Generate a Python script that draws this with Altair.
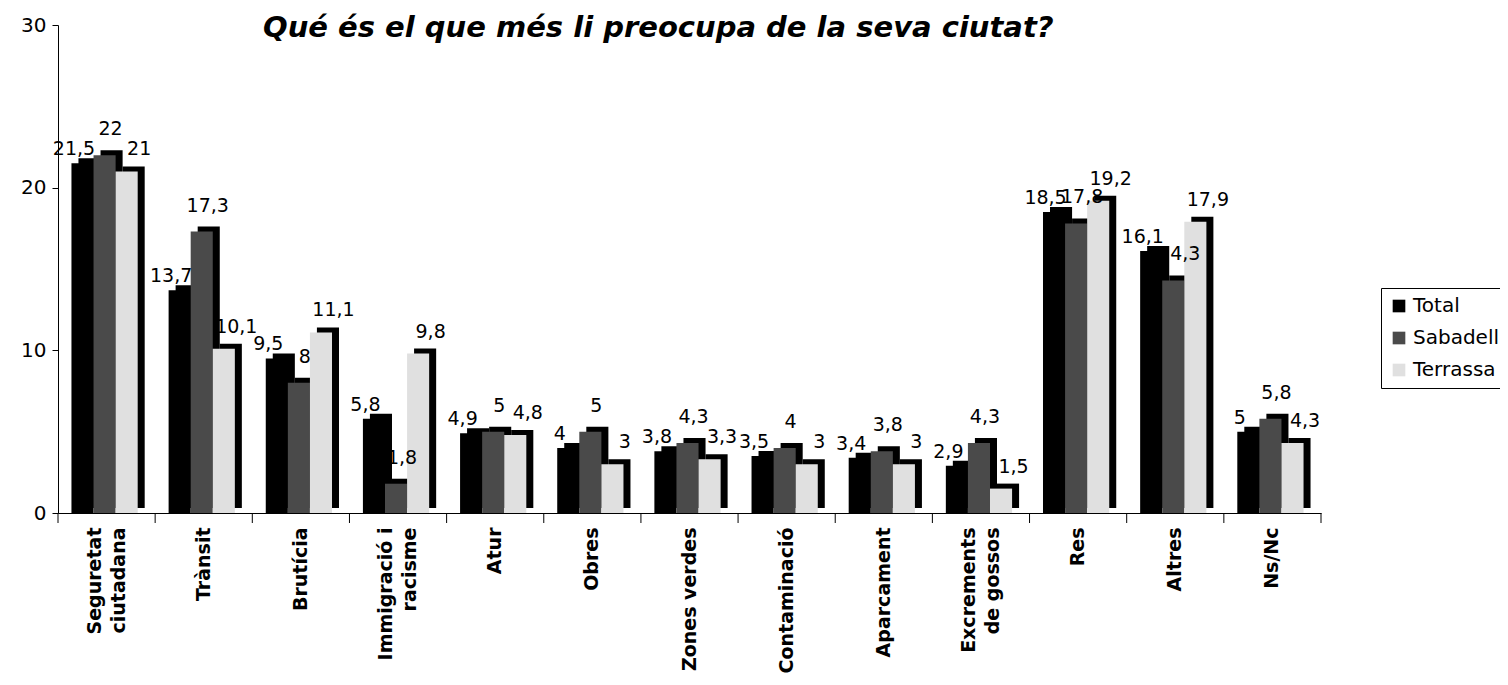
import altair as alt
import pandas as pd

categories = ["Seguretat|ciutadana", "Trànsit", "Brutícia", "Immigració i|racisme", "Atur",
              "Obres", "Zones verdes", "Contaminació", "Aparcament", "Excrements|de gossos",
              "Res", "Altres", "Ns/Nc"]
series = ["Total", "Sabadell", "Terrassa"]
total = [21.5, 13.7, 9.5, 5.8, 4.9, 4, 3.8, 3.5, 3.4, 2.9, 18.5, 16.1, 5]
sabadell = [22, 17.3, 8, 1.8, 5, 5, 4.3, 4, 3.8, 4.3, 17.8, 14.3, 5.8]
terrassa = [21, 10.1, 11.1, 9.8, 4.8, 3, 3.3, 3, 3, 1.5, 19.2, 17.9, 4.3]
colors = ["#000000", "#4a4a4a", "#e0e0e0"]
y_ticks = [0, 10, 20, 30]
title_text = "Qué és el que més li preocupa de la seva ciutat?"

rows = []
for s, vals in zip(series, [total, sabadell, terrassa]):
    for c, v in zip(categories, vals):
        rows.append({"cat": c, "series": s, "value": v,
                     "label": f"{v:g}".replace(".", ",")})
df = pd.DataFrame(rows)

FONT = "DejaVu Sans"
W, H = 1263, 488
STEP = W / len(categories)

x_axis = alt.Axis(title=None, labelAngle=270, labelAlign="right", labelBaseline="middle",
                  labelExpr="split(datum.label, '|')", labelFont=FONT,
                  labelFontSize=19, labelFontWeight="bold", labelLineHeight=24,
                  labelPadding=14, ticks=False, domainColor="black",
                  labelColor="black", labelOverlap=False,
                  labelOffset={"condition": {"test": "indexof(datum.label, '|') >= 0",
                                             "value": -12}, "value": 0})
y_axis = alt.Axis(title=None, values=y_ticks, grid=False, tickSize=6,
                  labelFont=FONT, labelFontSize=20, labelPadding=6,
                  domainColor="black", tickColor="black", labelColor="black")

x_first = alt.X("cat:N", sort=categories,
                scale=alt.Scale(paddingInner=0, paddingOuter=0), axis=x_axis)
x_rest = alt.X("cat:N", sort=categories)
y_first = alt.Y("value:Q", scale=alt.Scale(domain=[0, 30], nice=False), axis=y_axis)
y_rest = alt.Y("value:Q")


def xo(shift):
    return alt.XOffset("series:N", sort=series,
                       scale=alt.Scale(domain=series, paddingInner=0, paddingOuter=0.7,
                                       range=[shift, STEP + shift]))


base = alt.Chart(df)

shadow = base.mark_bar(color="#000000", yOffset=-5).encode(
    x=x_first, xOffset=xo(5), y=y_first)

front = base.mark_bar().encode(
    x=x_rest, xOffset=xo(-2), y=y_rest,
    color=alt.Color("series:N", sort=series,
                    scale=alt.Scale(domain=series, range=colors),
                    legend=alt.Legend(title=None, orient="none", legendX=1323, legendY=263,
                                      labelFont=FONT, labelFontSize=20, labelColor="black",
                                      symbolType="square", symbolSize=160,
                                      symbolStrokeWidth=0, strokeColor="black",
                                      fillColor="white", padding=8, rowPadding=12,
                                      labelOffset=4, cornerRadius=0)))

text_layers = []
for s, d, dy in zip(series, [-2, 6, 6], [-8, -20, -16]):
    text_layers.append(
        base.transform_filter(alt.datum.series == s).mark_text(
            font=FONT, fontSize=19, baseline="alphabetic", dx=d, dy=dy, color="black"
        ).encode(x=x_rest, xOffset=xo(-2), y=y_rest, text="label:N"))

tick_df = pd.DataFrame({"cat": categories})
ticks = alt.Chart(tick_df).mark_rule(color="black").encode(
    x=alt.X("cat:N", sort=categories, bandPosition=0),
    y=alt.value(H), y2=alt.value(H + 10))
end_df = pd.DataFrame({"cat": categories[-1:]})
end_tick = alt.Chart(end_df).mark_rule(color="black").encode(
    x=alt.X("cat:N", sort=categories, bandPosition=1),
    y=alt.value(H), y2=alt.value(H + 10))

title_df = pd.DataFrame({"t": [title_text]})
title = alt.Chart(title_df).mark_text(
    font=FONT, fontSize=29, fontWeight="bold", fontStyle="italic",
    align="left", baseline="alphabetic", color="black"
).encode(x=alt.value(205), y=alt.value(12), text="t:N")

chart = alt.layer(shadow, front, *text_layers, ticks, end_tick, title).resolve_scale(
    xOffset="independent"
).properties(
    width=W, height=H,
    autosize=alt.AutoSizeParams(type="none"),
    padding={"left": 50, "top": 17, "right": 179, "bottom": 164},
).configure(background="white").configure_view(stroke=None)

chart.save("out.html", embed_options={"renderer": "svg", "actions": False})
